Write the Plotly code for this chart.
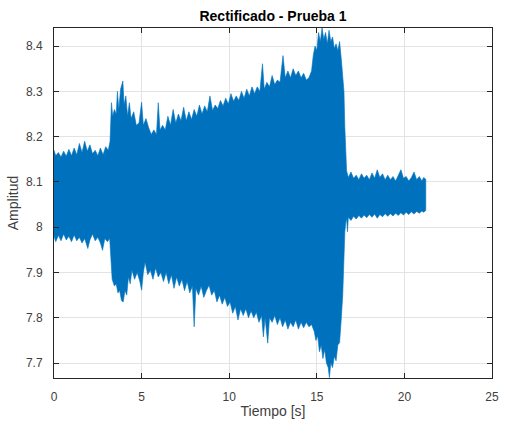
import plotly.graph_objects as go

# Upper envelope of the rectified signal (time [s], amplitude)
t_up = [0.00, 0.10, 0.25, 0.40, 0.55, 0.70, 0.85, 1.00, 1.15, 1.30, 1.45, 1.60, 1.75, 1.90,
        2.05, 2.20, 2.35, 2.50, 2.65, 2.80, 2.95, 3.10, 3.20, 3.28, 3.35, 3.45, 3.55, 3.62,
        3.70, 3.80, 3.93, 4.00, 4.10, 4.20, 4.30, 4.40, 4.55, 4.70, 4.85, 5.00, 5.10, 5.25,
        5.40, 5.55, 5.70, 5.85, 5.95, 6.05, 6.20, 6.35, 6.50, 6.65, 6.80, 6.95, 7.10, 7.25,
        7.40, 7.55, 7.70, 7.85, 8.00, 8.15, 8.30, 8.45, 8.60, 8.75, 8.90, 9.05, 9.20, 9.35,
        9.50, 9.65, 9.80, 9.95, 10.10, 10.25, 10.40, 10.55, 10.70, 10.85, 11.00, 11.15, 11.30,
        11.45, 11.60, 11.75, 11.90, 12.00, 12.15, 12.30, 12.45, 12.60, 12.75, 12.90, 13.07,
        13.20, 13.35, 13.50, 13.65, 13.80, 13.95, 14.10, 14.25, 14.40, 14.55, 14.70, 14.80,
        14.90, 15.00, 15.10, 15.20, 15.30, 15.40, 15.50, 15.60, 15.70, 15.80, 15.90, 16.00,
        16.10, 16.20, 16.30, 16.40, 16.48, 16.55, 16.60, 16.65, 16.70, 16.80, 16.95, 17.10,
        17.25, 17.40, 17.55, 17.70, 17.85, 18.00, 18.15, 18.30, 18.45, 18.60, 18.75, 18.90,
        19.05, 19.20, 19.35, 19.50, 19.65, 19.80, 19.95, 20.10, 20.25, 20.40, 20.55, 20.70,
        20.85, 21.00, 21.10, 21.22]
v_up = [8.170, 8.158, 8.165, 8.155, 8.168, 8.157, 8.172, 8.158, 8.175, 8.160, 8.185, 8.165,
        8.190, 8.168, 8.182, 8.162, 8.170, 8.158, 8.175, 8.160, 8.178, 8.170, 8.190, 8.275,
        8.245, 8.260, 8.250, 8.300, 8.260, 8.305, 8.323, 8.270, 8.290, 8.245, 8.275, 8.240,
        8.255, 8.225, 8.230, 8.276, 8.225, 8.240, 8.220, 8.205, 8.215, 8.205, 8.275, 8.215,
        8.225, 8.215, 8.245, 8.225, 8.260, 8.230, 8.250, 8.235, 8.265, 8.235, 8.255, 8.238,
        8.260, 8.245, 8.270, 8.250, 8.268, 8.255, 8.290, 8.258, 8.270, 8.262, 8.280, 8.268,
        8.285, 8.272, 8.295, 8.278, 8.290, 8.280, 8.300, 8.285, 8.305, 8.290, 8.310, 8.295,
        8.310, 8.300, 8.361, 8.305, 8.320, 8.310, 8.335, 8.315, 8.325, 8.320, 8.379, 8.330,
        8.345, 8.330, 8.350, 8.335, 8.345, 8.330, 8.340, 8.325, 8.330, 8.345, 8.380, 8.400,
        8.390, 8.430, 8.410, 8.440, 8.415, 8.430, 8.405, 8.435, 8.410, 8.420, 8.395, 8.405,
        8.390, 8.410, 8.370, 8.340, 8.300, 8.220, 8.150, 8.125, 8.110, 8.122, 8.108, 8.115,
        8.105, 8.118, 8.108, 8.115, 8.105, 8.120, 8.108, 8.127, 8.110, 8.118, 8.105, 8.115,
        8.105, 8.112, 8.102, 8.115, 8.127, 8.108, 8.112, 8.102, 8.110, 8.122, 8.105, 8.112,
        8.102, 8.110, 8.106]

# Lower envelope of the rectified signal (time [s], amplitude)
t_lo = [0.00, 0.10, 0.25, 0.40, 0.55, 0.70, 0.85, 1.00, 1.15, 1.30, 1.45, 1.60, 1.75, 1.93,
        2.05, 2.20, 2.35, 2.50, 2.65, 2.77, 2.90, 3.05, 3.18, 3.25, 3.32, 3.45, 3.55, 3.65,
        3.75, 3.85, 3.95, 4.05, 4.15, 4.25, 4.35, 4.45, 4.60, 4.75, 4.90, 5.00, 5.10, 5.20,
        5.35, 5.50, 5.65, 5.80, 5.95, 6.10, 6.25, 6.40, 6.55, 6.70, 6.85, 7.00, 7.15, 7.30,
        7.45, 7.60, 7.75, 7.90, 8.00, 8.10, 8.25, 8.40, 8.55, 8.70, 8.85, 9.00, 9.15, 9.30,
        9.45, 9.60, 9.75, 9.90, 10.05, 10.20, 10.35, 10.50, 10.65, 10.80, 10.95, 11.10, 11.25,
        11.40, 11.55, 11.70, 11.85, 11.95, 12.05, 12.20, 12.30, 12.45, 12.60, 12.75, 12.90,
        13.05, 13.20, 13.35, 13.50, 13.65, 13.80, 13.95, 14.10, 14.25, 14.40, 14.55, 14.70,
        14.85, 14.95, 15.05, 15.15, 15.25, 15.35, 15.45, 15.55, 15.65, 15.72, 15.80, 15.90,
        16.00, 16.10, 16.20, 16.30, 16.40, 16.48, 16.55, 16.60, 16.65, 16.70, 16.75, 16.80,
        16.95, 17.10, 17.25, 17.40, 17.55, 17.70, 17.85, 18.00, 18.15, 18.30, 18.45, 18.60,
        18.75, 18.90, 19.05, 19.20, 19.35, 19.50, 19.65, 19.80, 19.95, 20.10, 20.25, 20.40,
        20.55, 20.70, 20.85, 21.00, 21.10, 21.22]
v_lo = [7.980, 7.968, 7.982, 7.970, 7.985, 7.972, 7.980, 7.968, 7.983, 7.970, 7.978, 7.965,
        7.975, 7.953, 7.972, 7.985, 7.970, 7.978, 7.965, 7.949, 7.975, 7.968, 7.975, 7.930,
        7.885, 7.870, 7.875, 7.855, 7.860, 7.838, 7.835, 7.860, 7.850, 7.890, 7.875, 7.905,
        7.885, 7.900, 7.880, 7.861, 7.900, 7.923, 7.895, 7.905, 7.885, 7.910, 7.890, 7.900,
        7.880, 7.900, 7.875, 7.895, 7.865, 7.890, 7.870, 7.885, 7.860, 7.880, 7.855, 7.870,
        7.780, 7.865, 7.850, 7.870, 7.845, 7.860, 7.872, 7.850, 7.860, 7.835, 7.850, 7.830,
        7.845, 7.825, 7.835, 7.810, 7.825, 7.795, 7.820, 7.805, 7.820, 7.800, 7.815, 7.800,
        7.812, 7.790, 7.805, 7.758, 7.800, 7.744, 7.800, 7.790, 7.805, 7.785, 7.800, 7.780,
        7.795, 7.775, 7.790, 7.780, 7.795, 7.775, 7.790, 7.778, 7.790, 7.780, 7.785, 7.770,
        7.750, 7.760, 7.725, 7.740, 7.710, 7.730, 7.700, 7.690, 7.668, 7.700, 7.690, 7.715,
        7.705, 7.740, 7.745, 7.800, 7.850, 7.920, 7.990, 8.010, 8.020, 7.990, 8.022, 8.015,
        8.024, 8.018, 8.026, 8.020, 8.027, 8.021, 8.028, 8.022, 8.029, 8.020, 8.028, 8.023,
        8.030, 8.024, 8.030, 8.025, 8.031, 8.026, 8.032, 8.027, 8.033, 8.028, 8.034, 8.029,
        8.035, 8.031, 8.036, 8.033, 8.037]

x_ticks = [0, 5, 10, 15, 20, 25]
y_ticks = [7.7, 7.8, 7.9, 8.0, 8.1, 8.2, 8.3, 8.4]
y_ticktext = ["7.7", "7.8", "7.9", "8", "8.1", "8.2", "8.3", "8.4"]

poly_x = t_up + t_lo[::-1]
poly_y = v_up + v_lo[::-1]

BLUE = "#0072BD"
AX = "#262626"
TXT = "#404040"
FONT = "Arial, Liberation Sans, Helvetica, sans-serif"

fig = go.Figure()
fig.add_trace(go.Scatter(
    x=poly_x, y=poly_y, mode="lines", fill="toself",
    fillcolor=BLUE, line=dict(color=BLUE, width=0.6),
    hoverinfo="skip", showlegend=False,
))

axis_common = dict(
    showline=True, linecolor=AX, linewidth=1, mirror="ticks",
    ticks="inside", ticklen=5, tickcolor=AX, tickwidth=1,
    showgrid=True, gridcolor="#e3e3e3", gridwidth=1, zeroline=False,
    tickfont=dict(family=FONT, size=12, color=TXT),
    ticklabelstandoff=8,
)

fig.update_layout(
    width=506, height=425,
    margin=dict(l=54, r=7, t=28, b=47),
    paper_bgcolor="white", plot_bgcolor="white",
    title=dict(text="<b>Rectificado - Prueba 1</b>", x=0.5, xref="paper",
               y=1 - 16.5 / 425, yref="container", yanchor="middle",
               font=dict(family=FONT, size=14, color="black")),
    xaxis=dict(range=[0, 25], tickvals=x_ticks,
               title=dict(text="Tiempo [s]", standoff=2,
                          font=dict(family=FONT, size=14, color=TXT)),
               **axis_common),
    yaxis=dict(range=[7.667, 8.44], tickvals=y_ticks, ticktext=y_ticktext,
               title=dict(text="Amplitud", standoff=4,
                          font=dict(family=FONT, size=14, color=TXT)),
               **axis_common),
)

fig.write_html("out.html")
